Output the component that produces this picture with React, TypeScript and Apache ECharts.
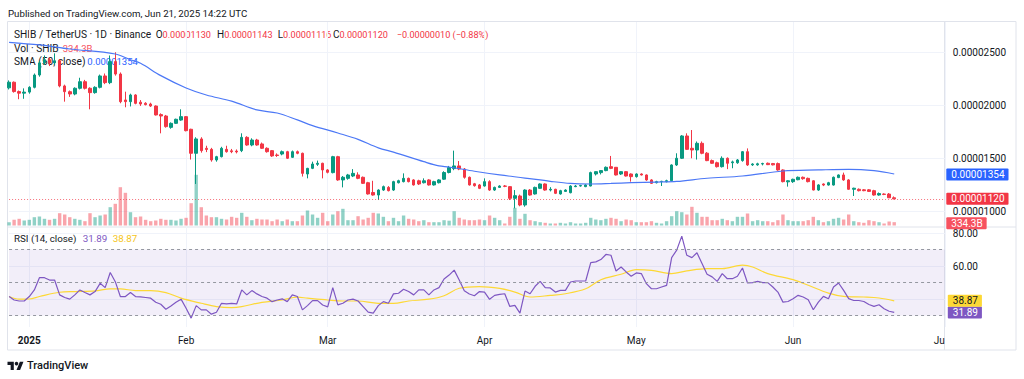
import React, { useEffect, useRef } from "react";
import * as echarts from "echarts";

// Prices are stored in units of PRICE_UNIT (1e-5 USDT): 2.165 means 0.00002165
const PRICE_UNIT = 1e-5;
const AXIS_START_UTC = Date.UTC(2024, 11, 28); // first daily candle: 2024-12-28
const AXIS_DAY_COUNT = 186; // axis runs to 2025-07-01
const MONTH_TICK_DATES = ["2025-01-01", "2025-02-01", "2025-03-01", "2025-04-01", "2025-05-01", "2025-06-01", "2025-07-01"];
const MONTH_TICK_LABELS = ["2025", "Feb", "Mar", "Apr", "May", "Jun", "Ju"];
const PRICE_TICKS = [1.0, 1.5, 2.0, 2.5];
const RSI_GRID_LEVELS = [80, 60, 40];
const RSI_LABEL_LEVELS = [80, 60];
const RSI_BAND_LEVELS = [70, 50, 30];

const OPEN = [
  2.165, 2.218, 2.130, 2.115, 2.125, 2.170, 2.286, 2.400, 2.430, 2.400,
  2.420, 2.183, 2.129, 2.107, 2.161, 2.223, 2.161, 2.120, 2.170, 2.277,
  2.214, 2.412, 2.295, 2.051, 2.035, 2.098, 2.030, 2.020, 2.013, 1.994,
  1.913, 1.900, 1.793, 1.831, 1.862, 1.894, 1.775, 1.549, 1.684, 1.596,
  1.586, 1.486, 1.517, 1.586, 1.572, 1.570, 1.574, 1.699, 1.627, 1.674,
  1.637, 1.596, 1.574, 1.533, 1.542, 1.564, 1.511, 1.564, 1.549, 1.354,
  1.407, 1.445, 1.455, 1.392, 1.367, 1.517, 1.298, 1.313, 1.335, 1.345,
  1.323, 1.272, 1.180, 1.156, 1.203, 1.228, 1.203, 1.272, 1.282, 1.313,
  1.298, 1.290, 1.272, 1.298, 1.251, 1.272, 1.305, 1.368, 1.405, 1.430,
  1.401, 1.323, 1.262, 1.251, 1.241, 1.282, 1.203, 1.228, 1.241, 1.235,
  1.125, 1.147, 1.062, 1.203, 1.166, 1.219, 1.260, 1.203, 1.210, 1.166,
  1.190, 1.178, 1.235, 1.241, 1.235, 1.241, 1.354, 1.367, 1.386, 1.423,
  1.417, 1.354, 1.376, 1.354, 1.329, 1.354, 1.345, 1.298, 1.272, 1.282,
  1.282, 1.291, 1.439, 1.502, 1.712, 1.596, 1.580, 1.643, 1.550, 1.480,
  1.460, 1.423, 1.502, 1.460, 1.460, 1.480, 1.564, 1.440, 1.440, 1.448,
  1.455, 1.452, 1.452, 1.392, 1.280, 1.282, 1.300, 1.323, 1.313, 1.290,
  1.203, 1.260, 1.250, 1.250, 1.320, 1.345, 1.298, 1.210, 1.210, 1.205,
  1.205, 1.197, 1.156, 1.165, 1.165, 1.130,
];
const HIGH = [
  2.235, 2.225, 2.140, 2.160, 2.180, 2.300, 2.420, 2.470, 2.450, 2.490,
  2.435, 2.195, 2.140, 2.170, 2.260, 2.240, 2.170, 2.180, 2.290, 2.300,
  2.470, 2.500, 2.310, 2.129, 2.110, 2.105, 2.050, 2.030, 2.025, 2.000,
  1.925, 1.910, 1.840, 1.875, 1.963, 1.900, 1.780, 1.700, 1.700, 1.620,
  1.600, 1.525, 1.610, 1.620, 1.590, 1.585, 1.737, 1.710, 1.690, 1.685,
  1.650, 1.605, 1.580, 1.548, 1.575, 1.572, 1.575, 1.575, 1.555, 1.412,
  1.470, 1.480, 1.460, 1.400, 1.525, 1.525, 1.335, 1.355, 1.400, 1.370,
  1.330, 1.280, 1.290, 1.210, 1.245, 1.240, 1.290, 1.300, 1.360, 1.320,
  1.305, 1.300, 1.313, 1.305, 1.290, 1.305, 1.380, 1.430, 1.574, 1.476,
  1.410, 1.330, 1.270, 1.260, 1.313, 1.295, 1.235, 1.248, 1.250, 1.240,
  1.203, 1.160, 1.210, 1.212, 1.235, 1.266, 1.266, 1.230, 1.215, 1.205,
  1.210, 1.248, 1.250, 1.252, 1.258, 1.376, 1.380, 1.390, 1.425, 1.524,
  1.420, 1.380, 1.382, 1.360, 1.360, 1.360, 1.350, 1.305, 1.290, 1.290,
  1.300, 1.445, 1.549, 1.720, 1.737, 1.768, 1.660, 1.660, 1.560, 1.490,
  1.470, 1.520, 1.510, 1.480, 1.495, 1.570, 1.595, 1.455, 1.460, 1.460,
  1.462, 1.458, 1.462, 1.398, 1.295, 1.310, 1.330, 1.330, 1.320, 1.295,
  1.258, 1.265, 1.280, 1.330, 1.350, 1.367, 1.305, 1.225, 1.218, 1.212,
  1.212, 1.205, 1.180, 1.172, 1.175, 1.143,
];
const LOW = [
  2.150, 2.120, 2.058, 2.062, 2.110, 2.160, 2.270, 2.380, 2.370, 2.385,
  2.170, 2.035, 2.080, 2.095, 2.150, 2.150, 1.963, 2.110, 2.160, 2.200,
  2.200, 2.280, 2.020, 1.982, 1.990, 2.010, 1.995, 2.000, 1.985, 1.905,
  1.737, 1.790, 1.780, 1.825, 1.855, 1.755, 1.490, 1.260, 1.555, 1.560,
  1.470, 1.470, 1.510, 1.555, 1.550, 1.548, 1.560, 1.620, 1.615, 1.620,
  1.590, 1.555, 1.515, 1.515, 1.530, 1.495, 1.505, 1.540, 1.330, 1.313,
  1.400, 1.430, 1.313, 1.360, 1.360, 1.290, 1.228, 1.300, 1.325, 1.305,
  1.260, 1.160, 1.150, 1.109, 1.195, 1.190, 1.195, 1.265, 1.275, 1.275,
  1.245, 1.250, 1.265, 1.245, 1.245, 1.265, 1.298, 1.360, 1.390, 1.390,
  1.310, 1.245, 1.235, 1.212, 1.235, 1.195, 1.195, 1.222, 1.230, 1.109,
  1.031, 1.050, 1.046, 1.150, 1.160, 1.215, 1.197, 1.190, 1.165, 1.160,
  1.185, 1.172, 1.230, 1.235, 1.230, 1.238, 1.340, 1.350, 1.380, 1.400,
  1.340, 1.345, 1.330, 1.282, 1.320, 1.340, 1.290, 1.260, 1.265, 1.241,
  1.275, 1.285, 1.430, 1.495, 1.580, 1.502, 1.490, 1.540, 1.475, 1.450,
  1.415, 1.415, 1.400, 1.408, 1.450, 1.470, 1.430, 1.430, 1.432, 1.435,
  1.438, 1.435, 1.385, 1.275, 1.235, 1.270, 1.295, 1.300, 1.275, 1.200,
  1.195, 1.240, 1.245, 1.245, 1.315, 1.290, 1.205, 1.147, 1.190, 1.192,
  1.185, 1.150, 1.150, 1.155, 1.128, 1.116,
];
const CLOSE = [
  2.218, 2.130, 2.115, 2.125, 2.170, 2.286, 2.400, 2.430, 2.400, 2.420,
  2.183, 2.129, 2.107, 2.161, 2.223, 2.161, 2.120, 2.170, 2.277, 2.214,
  2.412, 2.295, 2.035, 2.035, 2.098, 2.019, 2.013, 2.007, 1.994, 1.910,
  1.900, 1.800, 1.831, 1.869, 1.894, 1.762, 1.549, 1.684, 1.574, 1.585,
  1.486, 1.517, 1.596, 1.564, 1.564, 1.562, 1.699, 1.627, 1.674, 1.627,
  1.596, 1.564, 1.524, 1.528, 1.564, 1.502, 1.564, 1.549, 1.360, 1.407,
  1.448, 1.455, 1.392, 1.370, 1.517, 1.298, 1.323, 1.345, 1.360, 1.313,
  1.266, 1.166, 1.156, 1.203, 1.235, 1.197, 1.282, 1.291, 1.313, 1.282,
  1.251, 1.260, 1.290, 1.251, 1.282, 1.298, 1.368, 1.415, 1.430, 1.401,
  1.323, 1.251, 1.244, 1.219, 1.282, 1.203, 1.228, 1.241, 1.238, 1.125,
  1.150, 1.062, 1.203, 1.156, 1.228, 1.260, 1.203, 1.210, 1.172, 1.197,
  1.203, 1.241, 1.241, 1.245, 1.251, 1.367, 1.376, 1.386, 1.417, 1.407,
  1.345, 1.376, 1.335, 1.329, 1.354, 1.345, 1.298, 1.266, 1.282, 1.285,
  1.291, 1.439, 1.502, 1.712, 1.586, 1.580, 1.643, 1.549, 1.480, 1.455,
  1.423, 1.502, 1.455, 1.468, 1.486, 1.564, 1.439, 1.448, 1.450, 1.452,
  1.442, 1.440, 1.392, 1.282, 1.290, 1.304, 1.323, 1.310, 1.282, 1.203,
  1.251, 1.250, 1.272, 1.323, 1.345, 1.298, 1.210, 1.220, 1.197, 1.197,
  1.190, 1.156, 1.170, 1.162, 1.130, 1.120,
];
// volume in billions of SHIB
const VOLUME = [
  330, 570, 670, 500, 570, 830, 900, 670, 570, 670,
  1230, 1100, 830, 670, 570, 430, 1230, 830, 1000, 1100,
  1830, 2170, 3830, 3270, 1330, 830, 900, 570, 430, 500,
  670, 570, 570, 500, 670, 770, 2230, 5070, 1830, 1000,
  830, 830, 670, 600, 870, 770, 1270, 870, 530, 670,
  600, 600, 430, 600, 430, 600, 430, 430, 1000, 1500,
  1100, 770, 1270, 430, 1100, 1430, 1670, 530, 530, 930,
  600, 770, 1270, 1200, 870, 430, 770, 430, 1000, 670,
  600, 430, 530, 330, 330, 330, 530, 480, 1430, 770,
  600, 530, 530, 600, 530, 1000, 770, 530, 200, 870,
  1770, 670, 1170, 530, 430, 330, 270, 200, 200, 270,
  200, 330, 200, 200, 270, 770, 600, 530, 670, 770,
  670, 430, 600, 530, 330, 330, 330, 430, 270, 200,
  430, 930, 1430, 1330, 1100, 1870, 1270, 870, 870, 530,
  530, 670, 530, 430, 870, 870, 1200, 430, 530, 430,
  430, 330, 530, 1100, 530, 430, 430, 430, 530, 870,
  530, 330, 430, 670, 770, 600, 1100, 430, 330, 270,
  530, 430, 330, 200, 400, 334.3,
];
// SMA(50) read at these day indices
const SMA_DAY_INDEX = [0, 6, 12, 21, 24, 26, 30, 35, 39, 44, 49, 53, 57, 60, 65, 69, 73, 76, 82, 85, 87, 92, 97, 102, 107, 111, 115, 119, 123, 128, 132, 138, 145, 153, 160, 166, 171, 175];
const SMA_VALUE = [2.594, 2.569, 2.531, 2.484, 2.430, 2.396, 2.280, 2.164, 2.098, 2.040, 1.957, 1.928, 1.863, 1.810, 1.740, 1.680, 1.600, 1.560, 1.470, 1.430, 1.420, 1.380, 1.345, 1.316, 1.285, 1.265, 1.260, 1.265, 1.272, 1.278, 1.284, 1.314, 1.335, 1.382, 1.392, 1.398, 1.385, 1.354];
const RSI = [
  41.5, 39.4, 38.8, 38.8, 41.5, 45.5, 52.9, 52.9, 51.5, 51.5,
  42.5, 40.9, 39.9, 42.5, 45.5, 43.9, 42.5, 44.5, 49.5, 46.9,
  56.1, 50.5, 41.5, 41.5, 43.9, 41.5, 41.3, 40.9, 40.5, 38.0,
  36.8, 33.8, 35.8, 38.0, 39.9, 34.4, 28.4, 36.0, 33.4, 33.4,
  30.8, 32.0, 37.4, 37.0, 37.4, 37.0, 45.5, 42.5, 45.1, 43.1,
  41.5, 40.5, 38.4, 39.4, 40.1, 38.4, 42.5, 41.5, 33.4, 36.0,
  39.0, 39.0, 36.4, 35.2, 46.9, 36.4, 37.4, 39.4, 39.9, 38.8,
  35.4, 32.0, 31.4, 36.0, 38.4, 37.4, 43.1, 43.5, 45.9, 44.5,
  42.5, 45.5, 45.5, 42.5, 45.5, 46.9, 52.1, 54.5, 57.5, 51.5,
  45.0, 43.0, 42.0, 44.5, 44.2, 39.8, 42.2, 42.8, 43.2, 35.5,
  36.1, 31.4, 44.8, 43.2, 47.7, 50.7, 46.9, 46.7, 44.2, 45.2,
  45.2, 50.3, 50.9, 50.9, 50.9, 62.1, 62.5, 63.9, 67.0, 66.5,
  57.0, 59.4, 56.4, 53.8, 55.8, 55.4, 49.3, 46.2, 46.2, 47.3,
  48.3, 65.1, 69.6, 78.1, 66.5, 65.1, 68.0, 61.5, 55.0, 53.4,
  50.7, 55.4, 52.3, 52.3, 53.8, 58.8, 49.7, 49.9, 50.7, 49.9,
  49.9, 47.3, 44.2, 38.1, 38.5, 40.2, 42.2, 41.2, 39.6, 33.5,
  38.1, 41.6, 40.2, 47.3, 49.7, 45.2, 40.2, 39.1, 39.1, 38.5,
  36.7, 35.5, 36.5, 34.1, 32.6, 31.89,
];
// RSI-based moving average read at these day indices
const RSI_MA_DAY_INDEX = [0, 2, 4, 6, 10, 13, 17, 20, 22, 25, 28, 31, 34, 38, 41, 44, 46, 50, 54, 57, 59, 63, 66, 69, 73, 76, 79, 83, 86, 89, 93, 97, 100, 103, 107, 110, 114, 117, 121, 124, 127, 131, 134, 138, 141, 145, 147, 150, 155, 158, 162, 165, 169, 172, 175];
const RSI_MA_VALUE = [41.5, 39.9, 40.0, 41.5, 44.1, 44.5, 44.9, 46.1, 46.1, 45.1, 45.1, 43.9, 40.5, 37.4, 35.4, 34.8, 35.4, 38.0, 39.4, 41.1, 40.5, 39.4, 38.8, 38.8, 37.4, 37.4, 38.8, 39.9, 42.0, 46.5, 47.5, 46.4, 44.2, 41.2, 42.2, 43.2, 46.2, 51.7, 55.0, 57.8, 57.4, 55.4, 57.0, 58.4, 58.4, 60.5, 59.4, 55.4, 51.7, 48.3, 43.6, 41.6, 41.2, 40.6, 38.87];

const FONT = 'Roboto, "Noto Sans", "DejaVu Sans", sans-serif';
const TEXT = "#131722";
const UP = "#089981";
const DOWN = "#f23645";
const UP_VOL = "rgba(8,153,129,0.45)";
const DOWN_VOL = "rgba(242,54,69,0.45)";
const GRID_LINE = "#f0f3fa";
const HIDDEN_LINE = { width: 0, color: "rgba(0,0,0,0)" };
const GL = 9.07;
const GR = 1024 - 944.8;

const TV_LOGO_PATH = "M14 22H7V11H0V4h14v18ZM28 22h-8l7.5-18h8L28 22Z";
echarts.graphic.registerShape("tvLogo", echarts.graphic.extendPath(TV_LOGO_PATH, {}));

function buildOption(): any {
  const dates: string[] = [];
  for (let i = 0; i < AXIS_DAY_COUNT; i++) {
    dates.push(new Date(AXIS_START_UTC + i * 86400000).toISOString().slice(0, 10));
  }
  const isMonthTick = (_i: number, v: string) => MONTH_TICK_DATES.indexOf(v) >= 0;
  const last = CLOSE.length - 1;
  const fmtP = (v: number) => (v * PRICE_UNIT).toFixed(8);
  const chg = CLOSE[last] - CLOSE[last - 1];
  const sign = chg < 0 ? "\u2212" : "+";
  const chgStr = sign + Math.abs(chg * PRICE_UNIT).toFixed(8) + " (" + sign + Math.abs((chg / CLOSE[last - 1]) * 100).toFixed(2) + "%)";
  const volStr = VOLUME[last].toFixed(1) + "B";
  const smaLast = SMA_VALUE[SMA_VALUE.length - 1];
  const rsiLast = RSI[last];
  const rsiMaLast = RSI_MA_VALUE[RSI_MA_VALUE.length - 1];

  const candles = OPEN.map((o, i) => [o, CLOSE[i], LOW[i], HIGH[i]]);
  const volumes = VOLUME.map((v, i) => ({ value: v, itemStyle: { color: CLOSE[i] >= OPEN[i] ? UP_VOL : DOWN_VOL } }));
  const sma = SMA_DAY_INDEX.map((d, j) => [d, SMA_VALUE[j]]);
  const rsiMa = RSI_MA_DAY_INDEX.map((d, j) => [d, RSI_MA_VALUE[j]]);

  const badge = (bg: string, fg: string, text: string, dist = 1.5) => ({
    show: true,
    position: "end",
    distance: dist,
    formatter: text,
    backgroundColor: bg,
    color: fg,
    opacity: 1,
    fontFamily: FONT,
    fontSize: 10,
    lineHeight: 11,
    padding: [1, 4, 0, 5],
    borderRadius: 1,
  });
  const tickLabel = (text: string) => ({
    show: true,
    position: "end",
    distance: 8,
    formatter: text,
    color: TEXT,
    fontFamily: FONT,
    fontSize: 10,
  });

  const xAxisFor = (gridIndex: number, withLabels: boolean) => ({
    type: "category",
    gridIndex,
    data: dates,
    boundaryGap: false,
    axisLine: { show: false },
    axisTick: { show: false },
    axisLabel: withLabels
      ? {
          show: true,
          interval: isMonthTick,
          formatter: (v: string) => {
            const k = MONTH_TICK_DATES.indexOf(v);
            return k === 0 ? "{b|" + MONTH_TICK_LABELS[0] + "}" : MONTH_TICK_LABELS[k];
          },
          color: TEXT,
          fontFamily: FONT,
          fontSize: 10,
          margin: 8,
          showMaxLabel: true,
          alignMaxLabel: "right",
          rich: { b: { fontWeight: "bold", fontSize: 10, color: TEXT, fontFamily: FONT } },
        }
      : { show: false },
    splitLine: { show: gridIndex !== 1, interval: isMonthTick, lineStyle: { color: GRID_LINE, width: 1 } },
  });

  const text = (x: number, y: number, t: string, fill: string, size = 10.2, weight: any = "normal") => ({
    type: "text",
    x,
    y,
    silent: true,
    style: { text: t, fill, fontFamily: FONT, fontSize: size, fontWeight: weight, verticalAlign: "middle" },
  });
  const kv = (x: number, y: number, k: string, v: string) => ({
    type: "text",
    x,
    y,
    silent: true,
    style: {
      text: "{k|" + k + "}{v|" + v + "}",
      verticalAlign: "middle",
      rich: {
        k: { fill: TEXT, fontFamily: FONT, fontSize: 10 },
        v: { fill: DOWN, fontFamily: FONT, fontSize: 9.1 },
      },
    },
  });

  return {
    animation: false,
    backgroundColor: "#ffffff",
    textStyle: { fontFamily: FONT },
    grid: [
      { left: GL, right: GR, top: 22, height: 205 },
      { left: GL, right: GR, top: 125.5, height: 100 },
      { left: GL, right: GR, top: 227, height: 100 },
    ],
    xAxis: [xAxisFor(0, false), xAxisFor(1, false), xAxisFor(2, true)],
    yAxis: [
      { gridIndex: 0, type: "value", min: 0.855, max: 2.785, show: false },
      { gridIndex: 1, type: "value", min: 0, max: 10000, show: false },
      { gridIndex: 2, type: "value", min: 23.03, max: 83.64, show: false },
    ],
    series: [
      {
        name: "price grid",
        type: "line",
        xAxisIndex: 0,
        yAxisIndex: 0,
        data: CLOSE,
        symbol: "none",
        silent: true,
        z: 0,
        lineStyle: HIDDEN_LINE,
        markLine: {
          silent: true,
          symbol: ["none", "none"],
          z: 0,
          data: PRICE_TICKS.map((v) => ({ yAxis: v, lineStyle: { color: GRID_LINE, type: "solid", width: 1 }, label: tickLabel(fmtP(v)) })),
        },
      },
      {
        name: "Vol",
        type: "bar",
        xAxisIndex: 1,
        yAxisIndex: 1,
        data: volumes,
        barWidth: 3.4,
        z: 1,
        markLine: {
          silent: true,
          symbol: ["none", "none"],
          z: 8,
          data: [{ yAxis: VOLUME[last], lineStyle: HIDDEN_LINE, label: { ...badge("#f7525f", "#ffffff", volStr), offset: [0, 1] } }],
        },
      },
      {
        name: "SHIB / TetherUS",
        type: "candlestick",
        xAxisIndex: 0,
        yAxisIndex: 0,
        data: candles,
        barWidth: 3,
        z: 3,
        itemStyle: { color: UP, color0: DOWN, borderColor: UP, borderColor0: DOWN, borderWidth: 1 },
        markLine: {
          silent: true,
          symbol: ["none", "none"],
          z: 7,
          data: [{ yAxis: CLOSE[last], lineStyle: { color: DOWN, type: [1, 2], width: 1, opacity: 0.7 }, label: badge(DOWN, "#ffffff", fmtP(CLOSE[last])) }],
        },
      },
      {
        name: "SMA (50, close)",
        type: "line",
        xAxisIndex: 0,
        yAxisIndex: 0,
        data: sma,
        smooth: 0.35,
        symbol: "none",
        connectNulls: true,
        z: 4,
        lineStyle: { color: "#4c78f6", width: 1.2 },
        markLine: {
          silent: true,
          symbol: ["none", "none"],
          z: 7,
          data: [{ yAxis: smaLast, lineStyle: HIDDEN_LINE, label: badge("#2962ff", "#ffffff", fmtP(smaLast)) }],
        },
      },
      {
        name: "rsi grid",
        type: "line",
        xAxisIndex: 2,
        yAxisIndex: 2,
        data: RSI,
        symbol: "none",
        silent: true,
        z: 0,
        lineStyle: HIDDEN_LINE,
        markLine: {
          silent: true,
          symbol: ["none", "none"],
          z: 0,
          data: RSI_GRID_LEVELS.map((v) => ({
            yAxis: v,
            lineStyle: { color: GRID_LINE, type: "solid", width: 1 },
            label: RSI_LABEL_LEVELS.indexOf(v) >= 0 ? tickLabel(v.toFixed(2)) : { show: false },
          })),
        },
      },
      {
        name: "RSI (14, close)",
        type: "line",
        xAxisIndex: 2,
        yAxisIndex: 2,
        data: RSI,
        symbol: "none",
        z: 4,
        lineStyle: { color: "#7e57c2", width: 1.2 },
        markArea: {
          silent: true,
          itemStyle: { color: "rgba(126,87,194,0.1)" },
          data: [[{ yAxis: RSI_BAND_LEVELS[0] }, { yAxis: RSI_BAND_LEVELS[2] }]],
        },
        markLine: {
          silent: true,
          symbol: ["none", "none"],
          z: 7,
          data: [
            ...RSI_BAND_LEVELS.map((v) => ({ yAxis: v, lineStyle: { color: "#9598a1", type: [3, 3], width: 1 }, label: { show: false } })),
            { yAxis: rsiLast, lineStyle: HIDDEN_LINE, label: badge("#7e57c2", "#ffffff", rsiLast.toFixed(2), 3) },
          ],
        },
      },
      {
        name: "RSI-based MA",
        type: "line",
        xAxisIndex: 2,
        yAxisIndex: 2,
        data: rsiMa,
        smooth: 0.35,
        symbol: "none",
        connectNulls: true,
        z: 3,
        lineStyle: { color: "#fdd835", width: 1.2 },
        markLine: {
          silent: true,
          symbol: ["none", "none"],
          z: 7,
          data: [{ yAxis: rsiMaLast, lineStyle: HIDDEN_LINE, label: badge("#fdd835", TEXT, rsiMaLast.toFixed(2), 3) }],
        },
      },
    ],
    graphic: [
      { type: "rect", silent: true, shape: { x: 7.5, y: 21.5, width: 1008.5, height: 328.5 }, style: { fill: "none", stroke: "#e0e3eb", lineWidth: 1 } },
      { type: "line", silent: true, shape: { x1: 944.5, y1: 21.5, x2: 944.5, y2: 350 }, style: { stroke: "#e0e3eb", lineWidth: 1 } },
      { type: "line", silent: true, shape: { x1: 7.5, y1: 227, x2: 1016, y2: 227 }, style: { stroke: "#e0e3eb", lineWidth: 1 } },
      text(8, 13.3, "Published on TradingView.com, Jun 21, 2025 14:22 UTC", TEXT, 9.7),
      text(14, 34.7, "SHIB / TetherUS \u00b7 1D \u00b7 Binance", TEXT),
      kv(155.7, 34.7, "O", fmtP(OPEN[last])),
      kv(217, 34.7, "H", fmtP(HIGH[last])),
      kv(277.7, 34.7, "L", fmtP(LOW[last])),
      kv(333, 34.7, "C", fmtP(CLOSE[last])),
      text(396.7, 34.7, chgStr, DOWN, 9.1),
      text(14, 48.3, "Vol \u00b7 SHIB", TEXT),
      text(62.7, 48.3, volStr, "#f7525f", 9.5),
      text(14, 61.8, "SMA (50, close)", TEXT),
      text(87.3, 61.8, fmtP(smaLast), "#2962ff", 9.5),
      text(14, 238.5, "RSI (14, close)", TEXT, 9.8),
      text(82.7, 238.5, rsiLast.toFixed(2), "#7e57c2", 9.8),
      text(112.7, 238.5, rsiMaLast.toFixed(2), "#f5c518", 9.8),
      { type: "tvLogo", silent: true, x: 7.5, y: 360, scaleX: 0.45, scaleY: 0.45, style: { fill: TEXT } },
      { type: "circle", silent: true, shape: { cx: 7.5 + 20 * 0.45, cy: 360 + 8 * 0.45, r: 4 * 0.45 }, style: { fill: TEXT } },
      text(27, 365, "TradingView", TEXT, 11, 500),
    ],
  };
}

export default function App() {
  const ref = useRef<HTMLDivElement>(null);
  useEffect(() => {
    if (!ref.current) return;
    const chart = echarts.init(ref.current, undefined, { renderer: "svg" });
    chart.setOption(buildOption());
    return () => chart.dispose();
  }, []);
  return <div ref={ref} style={{ position: "fixed", left: 0, top: 0, width: 1024, height: 379, background: "#ffffff" }} />;
}
